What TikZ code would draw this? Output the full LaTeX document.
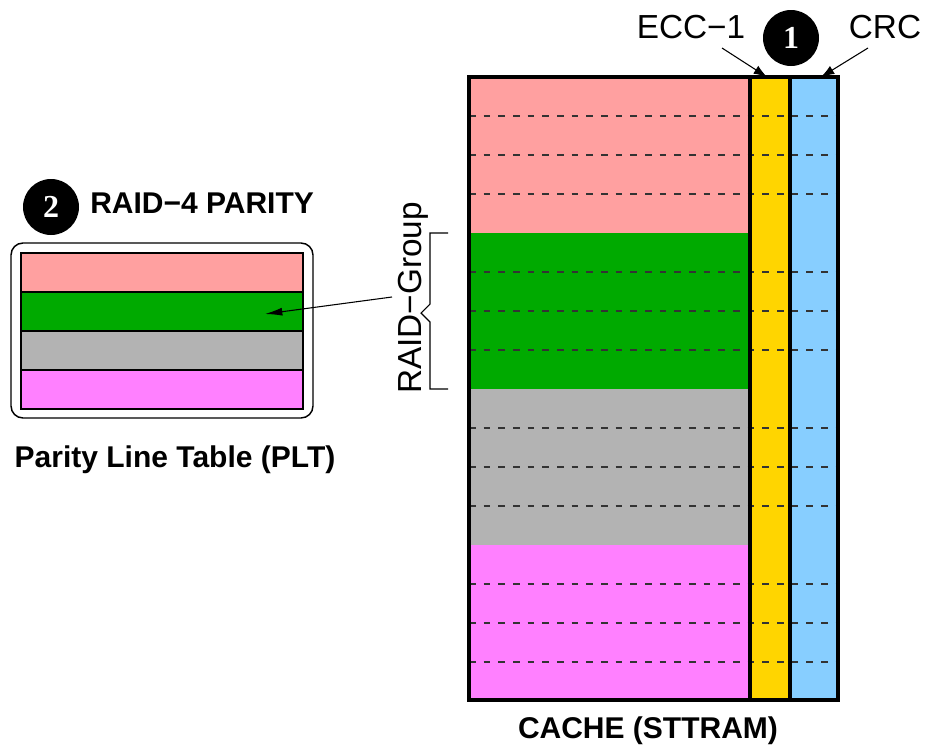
\documentclass[tikz,border=0pt]{standalone}
\usepackage{fontspec}
\setmainfont{Liberation Sans}
\newfontfamily\numfont{Liberation Serif}
\usetikzlibrary{arrows.meta}
\definecolor{cpink}{HTML}{FFA0A0}
\definecolor{cgreen}{HTML}{00AA00}
\definecolor{cgray}{HTML}{B3B3B3}
\definecolor{cmag}{HTML}{FF80FF}
\definecolor{cyel}{HTML}{FFD500}
\definecolor{cblue}{HTML}{87CEFF}
\begin{document}
\begin{tikzpicture}[x=0.75pt,y=-0.75pt,
  badge/.style={circle,fill=black,minimum size=42pt,inner sep=0pt,text=white,
    font=\numfont\bfseries\fontsize{24}{24}\selectfont},
  biglabel/.style={font=\fontsize{25}{28}\selectfont,inner sep=0pt},
  boldlabel/.style={font=\bfseries\fontsize{22.5}{26}\selectfont,inner sep=0pt},
  dashrule/.style={draw=black!80,line width=0.8pt,dash pattern=on 5pt off 6pt},
  thickrule/.style={line width=3pt,draw=black},
  arr/.style={line width=0.8pt,-{Latex[length=10pt,width=7pt]}},
  pltstripe/.style={draw=black,line width=0.8pt}]
\useasboundingbox (0,0) rectangle (926,746);

% ---- cache block ----
\fill[cpink] (469,77) rectangle (750,233);
\fill[cgreen] (469,233) rectangle (750,389);
\fill[cgray] (469,389) rectangle (750,545);
\fill[cmag] (469,545) rectangle (750,700);
\fill[cyel] (750,77) rectangle (790,700);
\fill[cblue] (790,77) rectangle (838,700);
\foreach \yy in {116,155,194,272,311,350,428,467,506,584,623,662}
  \draw[dashrule] (469,\yy) -- (838,\yy);
\draw[thickrule] (750,77) -- (750,700);
\draw[thickrule] (790,77) -- (790,700);
\draw[thickrule] (469,77) rectangle (838,700);
\node[boldlabel,anchor=base] (cache) at (648,738) {CACHE (STTRAM)};

% ---- top labels ----
\node[biglabel,anchor=base] (ecc) at (691,38) {ECC−1};
\node[biglabel,anchor=base] (crc) at (885,38) {CRC};
\node[badge] (b1) at (791,38) {1};
\coordinate (eccS) at (722,48);
\coordinate (eccT) at (767,77);
\coordinate (crcS) at (868,48);
\coordinate (crcT) at (821,77);
\draw[arr] (eccS) -- (eccT);
\draw[arr] (crcS) -- (crcT);

% ---- RAID group brace ----
\node[biglabel,anchor=base,rotate=90] (rg) at (421,298) {RAID−Group};
\draw[line width=0.8pt] (448,233) -- (430,233) -- (430,304) -- (421,313) -- (430,322) -- (430,389) -- (448,389);

% ---- PLT ----
\node[badge] (b2) at (51,207) {2};
\node[boldlabel,anchor=base west] (raid4) at (90,213) {RAID−4 PARITY};
\draw[line width=1.1pt,rounded corners=9pt] (11,243) rectangle (313,418);
\filldraw[pltstripe,fill=cpink] (21,253) rectangle (303,292);
\filldraw[pltstripe,fill=cgreen] (21,292) rectangle (303,331);
\filldraw[pltstripe,fill=cgray] (21,331) rectangle (303,370);
\filldraw[pltstripe,fill=cmag] (21,370) rectangle (303,409);
\node[boldlabel,anchor=base] (plt) at (175,467) {Parity Line Table (PLT)};
\coordinate (pS) at (392,297);
\coordinate (pT) at (265,314);
\draw[line width=0.8pt,-{Latex[length=13pt,width=6pt]}] (pS) -- (pT);
\end{tikzpicture}
\end{document}
